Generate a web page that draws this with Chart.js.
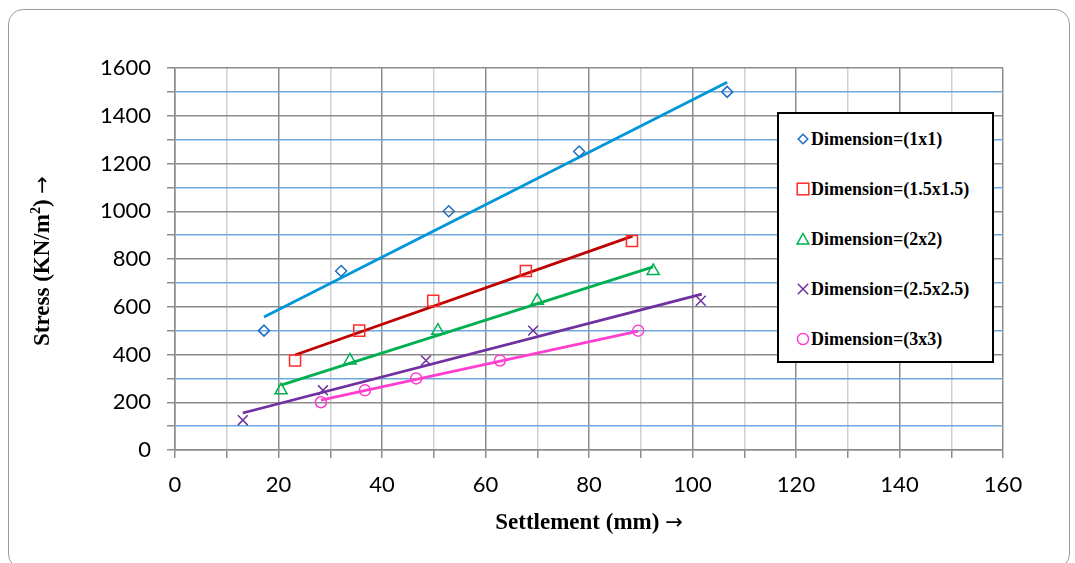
<!DOCTYPE html>
<html>
<head>
<meta charset="utf-8">
<script src="https://cdn.jsdelivr.net/npm/chart.js@4.4.0/dist/chart.umd.min.js"></script>
<style>
  body { margin: 0; background: #fff; }
  #wrap { position: relative; width: 1075px; height: 563px; overflow: hidden; }
  #frame { position: absolute; left: 8px; top: 9px; width: 1062px; height: 560px;
           border: 1.5px solid #9a9a9a; border-radius: 15px; box-sizing: border-box; pointer-events: none; }
  #chart { position: absolute; left: 0; top: 0; }
  #legend { position: absolute; left: 777px; top: 112px; width: 217px; height: 251px;
            border: 2px solid #000; box-sizing: border-box; background: #fff;
            font-family: "Liberation Serif", "Times New Roman", serif; font-weight: bold; font-size: 18px; }
  .item { position: absolute; left: 17px; height: 20px; display: flex; align-items: center; white-space: nowrap; }
  .item svg { margin-right: 1px; }
  .axtitle { position: absolute; white-space: nowrap; font-family: "Liberation Serif", "Times New Roman", serif;
             font-weight: bold; font-size: 23px; color: #000; line-height: 26px; }
  .axtitle sup { font-size: 14px; line-height: 0; }
  .arrow { font-family: "DejaVu Sans", sans-serif; font-weight: normal; font-size: 21px; }
  #xtitle { left: 589px; top: 522px; transform: translate(-50%, -50%); }
  #ytitle { left: 42px; top: 261px; transform: translate(-50%, -50%) rotate(-90deg); }
</style>
</head>
<body>
<div id="wrap">
  <canvas id="chart" width="1075" height="563"></canvas>
  <div id="legend"></div>
  <div id="xtitle" class="axtitle">Settlement (mm) <span class="arrow">→</span></div>
  <div id="ytitle" class="axtitle">Stress (KN/m<sup>2</sup>) <span class="arrow">→</span></div>
  <div id="frame"></div>
</div>
<script>
// --- DATA ---
const seriesNames = ['Dimension=(1x1)', 'Dimension=(1.5x1.5)', 'Dimension=(2x2)', 'Dimension=(2.5x2.5)', 'Dimension=(3x3)'];

const settle1 = [17.2, 32.1, 52.9, 78.1, 106.7];
const stress1 = [500, 750, 1000, 1250, 1500];
const settle2 = [23.2, 35.6, 49.9, 67.8, 88.3];
const stress2 = [375, 500, 625, 750, 875];
const settle3 = [20.5, 33.8, 50.8, 70.0, 92.4];
const stress3 = [250, 375, 500, 625, 750];
const settle4 = [13.1, 28.6, 48.5, 69.2, 101.6];
const stress4 = [125, 250, 375, 500, 625];
const settle5 = [28.2, 36.7, 46.6, 62.8, 89.5];
const stress5 = [200, 250, 300, 375, 500];

// linear trendline end points, as drawn
const trendX1 = [17.2, 106.7], trendY1 = [557, 1540];
const trendX2 = [23.2, 88.4],  trendY2 = [398, 896];
const trendX3 = [20.5, 92.4],  trendY3 = [272, 767];
const trendX4 = [13.1, 101.8], trendY4 = [155, 653];
const trendX5 = [28.2, 89.5],  trendY5 = [209, 498];

const xTicks = { min: 0, max: 160, step: 10, labelStep: 20 };
const yTicks = { min: 0, max: 1600, step: 100, labelStep: 200 };

// --- STYLES ---
const markerColors = ['#1f6fc5', '#ff2a2a', '#00b050', '#7030a0', '#ff3fcf'];
const lineColors = ['#0096d8', '#c00000', '#00b050', '#7030a0', '#ff3fcf'];
const markerStyles = ['rectRot', 'rect', 'triangle', 'crossRot', 'circle'];
const markerSizes = [5.5, 7.8, 7, 7, 5.5];

function pts(xs, ys) {
  return xs.map((x, i) => ({ x: x, y: ys[i] }));
}

const allSettle = [settle1, settle2, settle3, settle4, settle5];
const allStress = [stress1, stress2, stress3, stress4, stress5];
const allTrendX = [trendX1, trendX2, trendX3, trendX4, trendX5];
const allTrendY = [trendY1, trendY2, trendY3, trendY4, trendY5];

const datasets = [];
for (let i = 0; i < 5; i++) {
  datasets.push({
    label: seriesNames[i] + ' trend',
    data: pts(allTrendX[i], allTrendY[i]),
    showLine: true,
    borderColor: lineColors[i],
    borderWidth: 2.8,
    pointRadius: 0,
    fill: false,
    order: 2
  });
}
for (let i = 0; i < 5; i++) {
  datasets.push({
    label: seriesNames[i],
    data: pts(allSettle[i], allStress[i]),
    showLine: false,
    pointStyle: markerStyles[i],
    pointRadius: markerSizes[i],
    pointBorderColor: markerColors[i],
    pointBackgroundColor: 'rgba(0,0,0,0)',
    pointBorderWidth: 1.5,
    order: 1
  });
}

const tickFont = { family: 'Lato, "Open Sans", sans-serif', size: 22 };

new Chart(document.getElementById('chart'), {
  type: 'scatter',
  data: { datasets: datasets },
  options: {
    responsive: false,
    animation: false,
    layout: { padding: { top: 68, right: 72, bottom: 0, left: 0 } },
    plugins: { legend: { display: false }, tooltip: { enabled: false } },
    scales: {
      x: {
        type: 'linear',
        min: xTicks.min, max: xTicks.max,
        afterFit: s => { s.height = 113; },
        ticks: {
          stepSize: xTicks.step, autoSkip: false, maxRotation: 0, padding: 14,
          color: '#000', font: tickFont,
          callback: v => (v % xTicks.labelStep === 0 ? v : '')
        },
        grid: {
          color: c => (c.tick && c.tick.value % xTicks.labelStep === 0 ? '#8c8c8c' : '#d0d0d0'),
          tickColor: '#8c8c8c',
          lineWidth: 1.5,
          tickLength: 8
        },
        border: { color: '#8c8c8c', width: 1.5 }
      },
      y: {
        type: 'linear',
        min: yTicks.min, max: yTicks.max,
        afterFit: s => { s.width = 175; },
        ticks: {
          stepSize: yTicks.step, autoSkip: false, padding: 16,
          color: '#000', font: tickFont,
          callback: v => (v % yTicks.labelStep === 0 ? v : '')
        },
        grid: {
          color: c => (c.tick && c.tick.value % yTicks.labelStep === 0 ? '#8c8c8c' : '#6fa8dc'),
          tickColor: '#8c8c8c',
          lineWidth: 1.5,
          tickLength: 8
        },
        border: { color: '#8c8c8c', width: 1.5 }
      }
    }
  }
});

// --- LEGEND (html, built from series) ---
function markerSvg(i) {
  const c = markerColors[i];
  let shape = '';
  if (i === 0) shape = `<polygon points="7,2.2 11.8,7 7,11.8 2.2,7" fill="none" stroke="${c}" stroke-width="1.5"/>`;
  if (i === 1) shape = `<rect x="1.2" y="1.2" width="11.6" height="11.6" fill="none" stroke="${c}" stroke-width="1.5"/>`;
  if (i === 2) shape = `<polygon points="7,1.5 12.8,12 1.2,12" fill="none" stroke="${c}" stroke-width="1.5"/>`;
  if (i === 3) shape = `<path d="M1.8,1.8 L12.2,12.2 M12.2,1.8 L1.8,12.2" stroke="${c}" stroke-width="1.5"/>`;
  if (i === 4) shape = `<circle cx="7" cy="7" r="5.6" fill="none" stroke="${c}" stroke-width="1.5"/>`;
  return `<svg width="14" height="14" viewBox="0 0 14 14">${shape}</svg>`;
}
const legendEl = document.getElementById('legend');
const legendTops = [15, 65, 115, 165, 215];
seriesNames.forEach((name, i) => {
  const div = document.createElement('div');
  div.className = 'item';
  div.style.top = legendTops[i] + 'px';
  div.innerHTML = markerSvg(i) + '<span>' + name + '</span>';
  legendEl.appendChild(div);
});
</script>
</body>
</html>
